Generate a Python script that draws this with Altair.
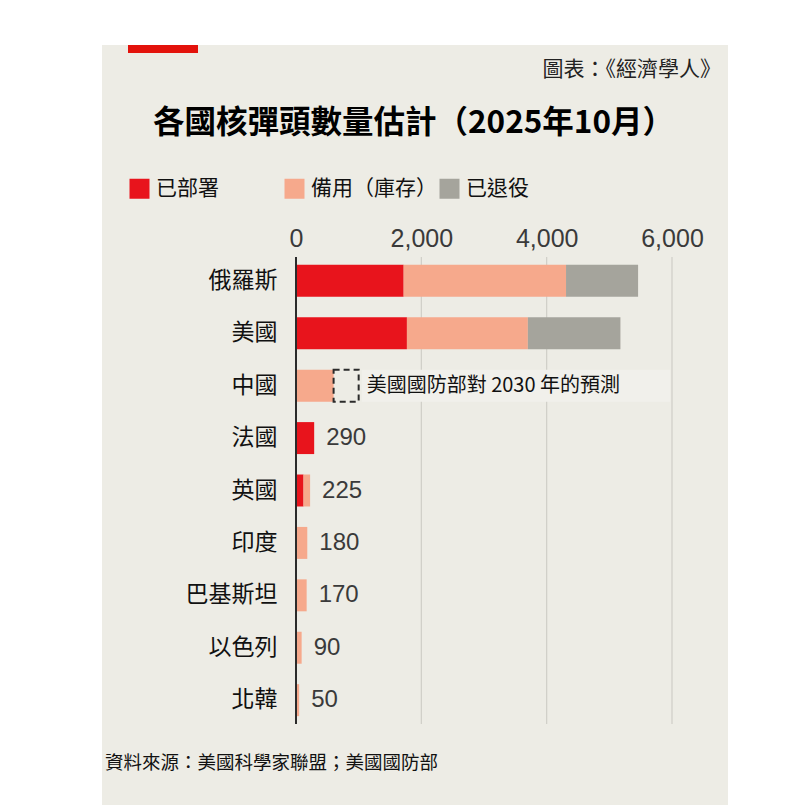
import altair as alt
import pandas as pd

# ---------------- data ----------------
countries = ["俄羅斯", "美國", "中國", "法國", "英國", "印度", "巴基斯坦", "以色列", "北韓"]
deployed = [1718, 1770, 0, 290, 120, 0, 0, 0, 0]
reserve = [2591, 1930, 600, 0, 105, 180, 170, 90, 50]
retired = [1150, 1477, 0, 0, 0, 0, 0, 0, 0]
value_labels = ["", "", "", "290", "225", "180", "170", "90", "50"]
categories = ["已部署", "備用（庫存）", "已退役"]
colors = ["#e8141c", "#f6a98c", "#a5a49c"]
x_ticks = [0, 2000, 4000, 6000]
grid_values = [2000, 4000, 6000]
china_now = 600
china_projection = 1000
note_box = [1050, 5970]
projection_note = "美國國防部對 2030 年的預測"
title_text = "各國核彈頭數量估計（2025年10月）"
credit_text = "圖表：《經濟學人》"
source_text = "資料來源：美國科學家聯盟；美國國防部"

CJK = "Noto Sans CJK TC"
NUM = "Liberation Sans"
PANEL = "#edece5"

rows = []
for i, c in enumerate(countries):
    for k, (cat, vals) in enumerate(zip(categories, [deployed, reserve, retired])):
        if vals[i] > 0:
            rows.append({"country": c, "category": cat, "value": vals[i], "ord": k})
bars_df = pd.DataFrame(rows)

totals_df = pd.DataFrame({
    "country": countries,
    "total": [d + r + t for d, r, t in zip(deployed, reserve, retired)],
    "label": value_labels,
})
totals_df = totals_df[totals_df["label"] != ""]

grid_df = pd.DataFrame({"g": grid_values})
base_df = pd.DataFrame({"g": [0]})
proj_df = pd.DataFrame({"country": ["中國"], "start": [china_now], "end": [china_projection],
                        "b0": [note_box[0]], "b1": [note_box[1]], "note": [projection_note]})

# ---------------- shared scales / axes ----------------
xscale = alt.Scale(domain=[0, 6000], nice=False, zero=True)
xaxis = alt.Axis(orient="top", values=x_ticks, title=None, grid=False,
                 labelExpr="format(datum.value, ',')",
                 domain=False, ticks=False, tickSize=0, labelFlush=False,
                 labelFont=NUM, labelFontSize=25, labelColor="#3a3a3a",
                 labelPadding=6, zindex=1)
yscale = alt.Scale(domain=countries, paddingInner=0.39, paddingOuter=0.15)
yaxis = alt.Axis(title=None, grid=False, domain=False, ticks=False, tickSize=0,
                 labelFont=CJK, labelFontSize=23, labelColor="#111111",
                 labelPadding=19, zindex=1)

def X(field, **kw):
    return alt.X(field, scale=xscale, axis=xaxis, title=None, **kw)

def Y(field):
    return alt.Y(field, scale=yscale, axis=yaxis, title=None, sort=countries)

# ---------------- decorations ----------------
panel = alt.Chart(base_df).mark_rect(color=PANEL).encode(
    x=alt.value(-194), x2=alt.value(432), y=alt.value(-212), y2=alt.value(548))
accent = alt.Chart(base_df).mark_rect(color="#e3120b").encode(
    x=alt.value(-168), x2=alt.value(-98), y=alt.value(-212), y2=alt.value(-204))
title = alt.Chart(base_df).mark_text(
    text=title_text, font=CJK, fontSize=31.5, fontWeight="bold", align="left",
    baseline="middle", color="#000000").encode(x=alt.value(-143), y=alt.value(-133))
credit = alt.Chart(base_df).mark_text(
    text=credit_text, font=CJK, fontSize=21, align="right", baseline="middle",
    color="#222222").encode(x=alt.value(425), y=alt.value(-187))
source = alt.Chart(base_df).mark_text(
    text=source_text, font=CJK, fontSize=18.5, align="left", baseline="middle",
    color="#111111").encode(x=alt.value(-191), y=alt.value(506))

# ---------------- chart layers ----------------
grid = alt.Chart(grid_df).mark_rule(color="#cfcec7", strokeWidth=1.2).encode(x=X("g:Q"))
baseline = alt.Chart(base_df).mark_rule(color="#2b2b2b", strokeWidth=2).encode(x=X("g:Q"))

bars = alt.Chart(bars_df).mark_bar().encode(
    x=X("value:Q", stack="zero"),
    y=Y("country:N"),
    color=alt.Color("category:N",
                    scale=alt.Scale(domain=categories, range=colors),
                    legend=alt.Legend(title=None, orient="none", legendX=-167, legendY=-79,
                                      direction="horizontal", columns=3, gridAlign="all",
                                      symbolType="square", symbolSize=400,
                                      symbolStrokeWidth=0, labelFont=CJK,
                                      labelFontSize=21, labelColor="#111111",
                                      labelOffset=6, columnPadding=2, padding=0,
                                      zindex=1)),
    order=alt.Order("ord:Q"),
)

note_bg = alt.Chart(proj_df).mark_rect(color="#f1f0eb").encode(
    x=X("b0:Q"), x2="b1:Q", y=Y("country:N"))
proj_box = alt.Chart(proj_df).mark_rect(
    fill=None, fillOpacity=0, stroke="#2b2b2b", strokeWidth=2, strokeDash=[6, 4]).encode(
    x=X("start:Q"), x2="end:Q", y=Y("country:N"))
proj_text = alt.Chart(proj_df).mark_text(
    font=CJK, fontSize=20, align="left", baseline="middle", dx=8, color="#111111").encode(
    x=X("end:Q"), y=Y("country:N"), text="note:N")

labels = alt.Chart(totals_df).mark_text(
    font=NUM, fontSize=24, align="left", baseline="middle", dx=12, color="#3a3a3a").encode(
    x=X("total:Q"), y=Y("country:N"), text="label:N")

chart = alt.layer(
    panel, accent, title, credit, source, grid, note_bg, bars, baseline,
    proj_box, proj_text, labels
).properties(
    width=376, height=467,
    padding={"left": 94, "top": 37, "right": 5, "bottom": 5},
    background="#ffffff",
).configure_view(stroke=None)

chart.save("out.html", embed_options={"renderer": "svg", "actions": False})
